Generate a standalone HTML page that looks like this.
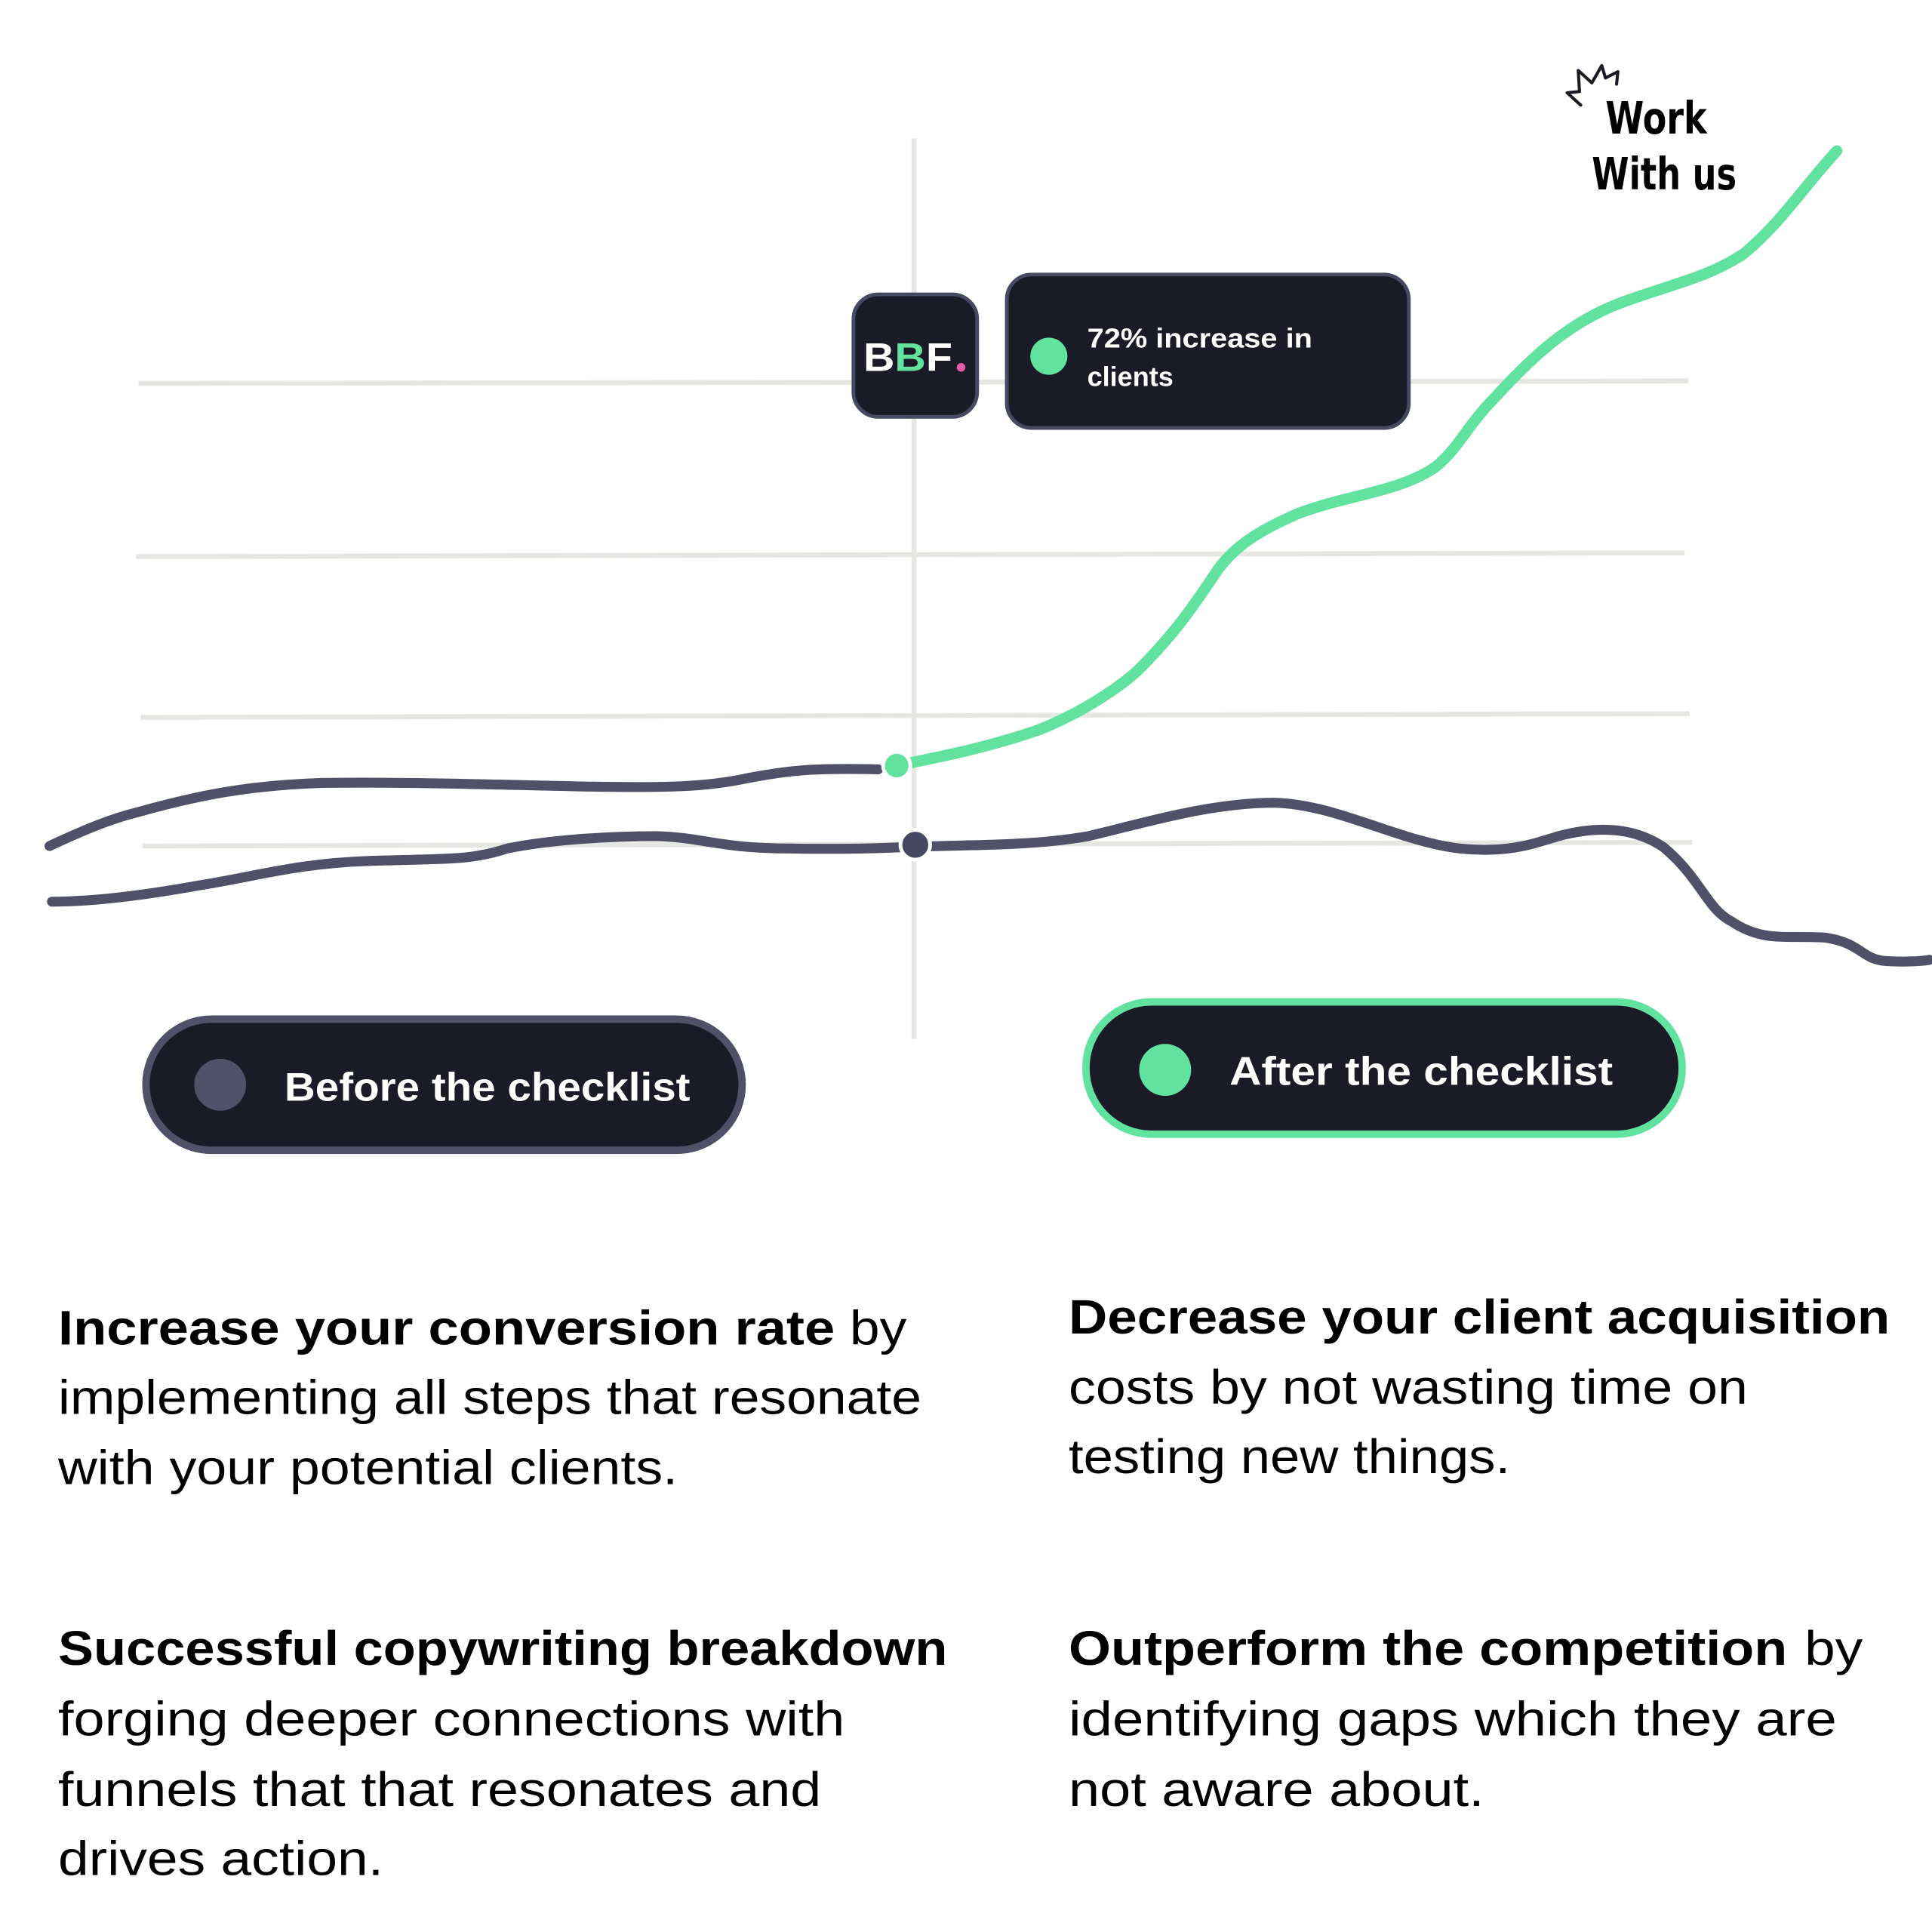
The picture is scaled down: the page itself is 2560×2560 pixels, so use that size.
<!DOCTYPE html>
<html><head><meta charset="utf-8"><style>html,body{margin:0;padding:0;background:#fff}svg{display:block}</style></head>
<body>
<svg width="2560" height="2560" viewBox="0 0 1562 1562" xmlns="http://www.w3.org/2000/svg" font-family="'Liberation Sans', sans-serif">
<rect width="1562" height="1562" fill="#fff"/>
<g stroke="#e6e6e2" stroke-width="4" fill="none">
<line x1="112" y1="310" x2="1365" y2="308"/>
<line x1="110" y1="450" x2="1362" y2="447"/>
<line x1="114" y1="580" x2="1366" y2="577"/>
<line x1="115" y1="684" x2="1368" y2="681"/>
<line x1="739" y1="112" x2="739" y2="840"/>
</g>
<path d="M40,684 C70,670 90,662 110,657 C160,643 200,635 260,633 C340,632 420,635 480,636 C540,637 570,636 600,630 C640,622 660,621 710,622" stroke="#505068" stroke-width="8" fill="none" stroke-linecap="round"/>
<path d="M42,729 C70,729 110,725 160,716 C210,708 240,698 300,696 C360,694 380,696 410,686 C450,678 500,676 530,676 C570,677 580,686 640,686 C700,687 720,685 760,684 C800,683 840,683 880,676 C930,664 980,649 1030,649 C1080,650 1130,680 1180,686 C1220,690 1240,682 1260,676 C1290,668 1320,668 1345,685 C1375,710 1380,735 1400,745 C1425,762 1445,756 1475,758 C1505,762 1505,776 1525,777 C1540,778 1555,777 1560,776" stroke="#505068" stroke-width="8" fill="none" stroke-linecap="round"/>
<path d="M725,619 C760,612 800,604 840,590 C870,578 900,560 920,542 C950,512 965,490 985,460 C1000,440 1020,428 1050,415 C1090,400 1130,398 1160,378 C1180,362 1185,345 1210,320 C1240,287 1270,260 1310,245 C1350,230 1380,225 1410,205 C1440,180 1455,155 1485,122" stroke="#62e29f" stroke-width="9" fill="none" stroke-linecap="round"/>
<circle cx="725" cy="619" r="11" fill="#62e29f" stroke="#fff" stroke-width="3"/>
<circle cx="740" cy="683" r="12" fill="#474963" stroke="#fff" stroke-width="3"/>
<rect x="690" y="238" width="100" height="99" rx="20" fill="#1a1b27" stroke="#474963" stroke-width="3"/>
<text x="698" y="300" font-size="32" font-weight="bold" fill="#fff" textLength="72" lengthAdjust="spacingAndGlyphs">B<tspan fill="#62e29f">B</tspan>F</text>
<circle cx="777" cy="297" r="3.5" fill="#e35ca8"/>
<rect x="814" y="222" width="325" height="124" rx="20" fill="#1a1b27" stroke="#474963" stroke-width="3"/>
<circle cx="848" cy="288" r="15" fill="#62e29f"/>
<text x="879" y="281" font-size="22" font-weight="bold" fill="#fff" textLength="182" lengthAdjust="spacingAndGlyphs">72% increase in</text>
<text x="879" y="312" font-size="22" font-weight="bold" fill="#fff">clients</text>
<rect x="118" y="824" width="482" height="106" rx="53" fill="#1a1b27" stroke="#505068" stroke-width="6"/>
<circle cx="178" cy="877" r="21" fill="#505068"/>
<text x="230" y="890" font-size="32" font-weight="bold" fill="#fff" textLength="328" lengthAdjust="spacingAndGlyphs">Before the checklist</text>
<rect x="878" y="810" width="482" height="107" rx="53" fill="#1a1b27" stroke="#62e29f" stroke-width="6"/>
<circle cx="942" cy="865" r="21" fill="#62e29f"/>
<text x="994" y="877" font-size="32" font-weight="bold" fill="#fff" textLength="310" lengthAdjust="spacingAndGlyphs">After the checklist</text>
<polyline points="1278,85 1267,75 1277,74 1276,57 1287,67 1295,53 1298,63 1308,58 1307,68" fill="none" stroke="#1a1b27" stroke-width="2.5" stroke-linejoin="round" stroke-linecap="round"/>
<g font-family="'DejaVu Sans', sans-serif" font-weight="bold" fill="#000">
<text x="1298" y="108" font-size="36" textLength="82" lengthAdjust="spacingAndGlyphs">Work</text>
<text x="1287" y="153" font-size="36" textLength="117" lengthAdjust="spacingAndGlyphs">With us</text>
</g>
<g font-size="39" fill="#000">
<text x="47" y="1087"><tspan font-weight="bold" textLength="628" lengthAdjust="spacingAndGlyphs">Increase your conversion rate</tspan><tspan x="687" textLength="46" lengthAdjust="spacingAndGlyphs">by</tspan></text>
<text x="47" y="1143" textLength="698" lengthAdjust="spacingAndGlyphs">implementing all steps that resonate</text>
<text x="47" y="1200" textLength="501" lengthAdjust="spacingAndGlyphs">with your potential clients.</text>
<text x="864" y="1078" font-weight="bold" textLength="664" lengthAdjust="spacingAndGlyphs">Decrease your client acquisition</text>
<text x="864" y="1135" textLength="549" lengthAdjust="spacingAndGlyphs">costs by not wasting time on</text>
<text x="864" y="1191" textLength="357" lengthAdjust="spacingAndGlyphs">testing new things.</text>
<text x="47" y="1346" font-weight="bold" textLength="719" lengthAdjust="spacingAndGlyphs">Successful copywriting breakdown</text>
<text x="47" y="1403" textLength="636" lengthAdjust="spacingAndGlyphs">forging deeper connections with</text>
<text x="47" y="1460" textLength="617" lengthAdjust="spacingAndGlyphs">funnels that that resonates and</text>
<text x="47" y="1516" textLength="263" lengthAdjust="spacingAndGlyphs">drives action.</text>
<text x="864" y="1346"><tspan font-weight="bold" textLength="581" lengthAdjust="spacingAndGlyphs">Outperform the competition</tspan><tspan x="1459" textLength="47" lengthAdjust="spacingAndGlyphs">by</tspan></text>
<text x="864" y="1403" textLength="621" lengthAdjust="spacingAndGlyphs">identifying gaps which they are</text>
<text x="864" y="1460" textLength="336" lengthAdjust="spacingAndGlyphs">not aware about.</text>
</g>
</svg>
</body></html>
